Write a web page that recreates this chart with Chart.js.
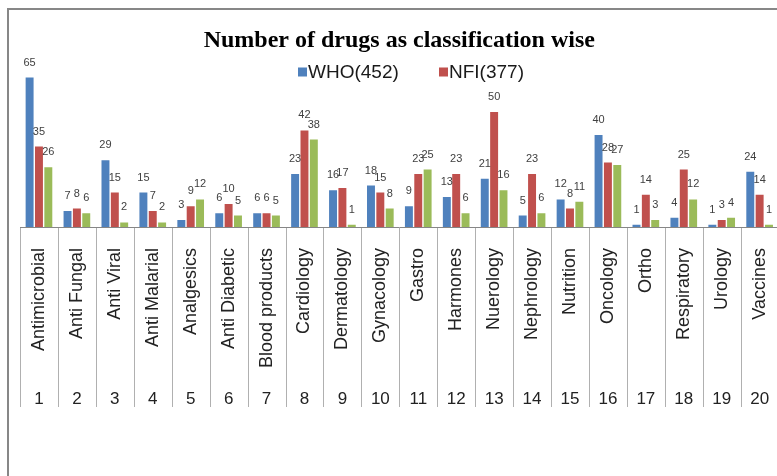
<!DOCTYPE html>
<html><head><meta charset="utf-8">
<script src="https://cdn.jsdelivr.net/npm/chart.js@4"></script>
<style>html,body{margin:0;padding:0;background:#fff;overflow:hidden;}#wrap{width:777px;height:476px;overflow:hidden;}</style>
</head><body><div id="wrap"><canvas id="c" width="800" height="476"></canvas></div>
<script>
const categories = ['Antimicrobial','Anti Fungal','Anti Viral','Anti Malarial','Analgesics','Anti Diabetic','Blood products','Cardiology','Dermatology','Gynacology','Gastro','Harmones','Nuerology','Nephrology','Nutrition','Oncology','Ortho','Respiratory','Urology','Vaccines'];
const categoryNumbers = ['1','2','3','4','5','6','7','8','9','10','11','12','13','14','15','16','17','18','19','20'];
const seriesNames = ['WHO(452)','NFI(377)','Series3'];
const whoValues = [65,7,29,15,3,6,6,23,16,18,9,13,21,5,12,40,1,4,1,24];
const nfiValues = [35,8,15,7,9,10,6,42,17,15,23,23,50,23,8,28,14,25,3,14];
const thirdValues = [26,6,2,2,12,5,5,38,1,8,25,6,16,6,11,27,3,12,4,1];
const yMax = 70;
const legendShown = [true,true,false];

const framePlugin = {
  id:'frame',
  beforeDraw(chart){
    const ctx=chart.ctx; ctx.save();
    ctx.strokeStyle='#878787'; ctx.lineWidth=2;
    ctx.strokeRect(8,9,900,900);
    ctx.restore();
  }
};
const boundaryPlugin = {
  id:'boundaries',
  afterDraw(chart){
    const xs=chart.scales.x, ctx=chart.ctx;
    const n=categories.length;
    const half=(xs.getPixelForValue(1)-xs.getPixelForValue(0))/2;
    ctx.save(); ctx.strokeStyle='#b0b0b0'; ctx.lineWidth=1;
    for(let i=0;i<=n;i++){
      const x = i<n ? xs.getPixelForValue(i)-half : xs.getPixelForValue(n-1)+half;
      const px=Math.round(x)+0.5;
      ctx.beginPath(); ctx.moveTo(px,xs.top+1); ctx.lineTo(px,407); ctx.stroke();
    }
    ctx.restore();
  }
};
const labelPlugin = {
  id:'valueLabels',
  afterDatasetsDraw(chart){
    const ctx=chart.ctx; ctx.save();
    ctx.font='11px "Liberation Sans"'; ctx.fillStyle='#404040';
    ctx.textAlign='center'; ctx.textBaseline='middle';
    chart.data.datasets.forEach((ds,di)=>{
      chart.getDatasetMeta(di).data.forEach((bar,i)=>{
        ctx.fillText(String(ds.data[i]), bar.x, bar.y-15);
      });
    });
    ctx.restore();
  }
};
const legendPlugin = {
  id:'customLegend',
  afterDraw(chart){
    const ctx=chart.ctx; ctx.save();
    ctx.font='19px "Liberation Sans"'; ctx.textBaseline='middle'; ctx.textAlign='left';
    const xs=[298,439]; const y=72; let k=0;
    chart.data.datasets.forEach((ds,di)=>{
      if(!legendShown[di]) return;
      const x=xs[k++];
      ctx.fillStyle=ds.backgroundColor; ctx.fillRect(x,y-4.5,9,9);
      ctx.fillStyle='#1a1a1a'; ctx.fillText(ds.label,x+10,y+1);
    });
    ctx.restore();
  }
};

new Chart(document.getElementById('c'),{
  type:'bar',
  data:{
    labels:categories,
    datasets:[
      {label:seriesNames[0],data:whoValues,backgroundColor:'#4f81bd'},
      {label:seriesNames[1],data:nfiValues,backgroundColor:'#c0504d'},
      {label:seriesNames[2],data:thirdValues,backgroundColor:'#9bbb59'}
    ]
  },
  options:{
    responsive:false, animation:false, devicePixelRatio:1,
    categoryPercentage:0.74, barPercentage:0.85,
    layout:{padding:{left:20,right:21.4,top:0,bottom:56}},
    plugins:{
      legend:{display:false}, tooltip:{enabled:false},
      title:{display:true,text:'Number of drugs as classification wise',color:'#000',
        font:{family:'"Liberation Serif"',size:24,weight:'bold',lineHeight:1.2},
        padding:{top:26,bottom:11.2}}
    },
    scales:{
      x:{type:'category',position:'bottom',offset:true,
        grid:{display:false},border:{display:true,color:'#868686',width:1},
        ticks:{autoSkip:false,minRotation:90,maxRotation:90,padding:13,color:'#222',font:{family:'"Liberation Sans"',size:18}},
        afterFit(s){s.height=153;}},
      x2:{type:'category',labels:categoryNumbers,position:'bottom',offset:true,
        grid:{display:false},border:{display:false},
        ticks:{autoSkip:false,maxRotation:0,minRotation:0,padding:1,color:'#222',font:{family:'"Liberation Sans"',size:17}},
        afterFit(s){s.height=40;}},
      y:{display:false,min:0,max:yMax}
    }
  },
  plugins:[framePlugin,boundaryPlugin,labelPlugin,legendPlugin]
});
</script></body></html>
